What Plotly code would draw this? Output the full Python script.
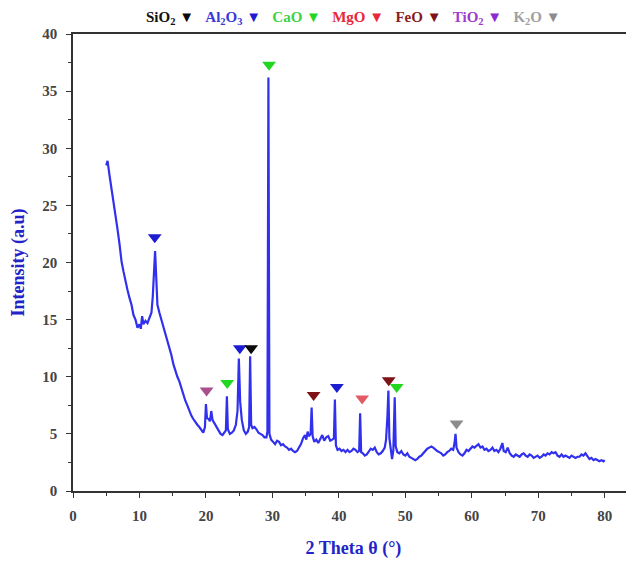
import plotly.graph_objects as go

# ---- data ----
two_theta = [5.0, 5.2, 5.5, 5.8, 6.1, 6.4, 6.7, 7.0, 7.3, 7.6, 7.9, 8.2, 8.5, 8.8, 9.1, 9.4, 9.7, 10.0, 10.2, 10.4,
             10.6, 10.9, 11.2, 11.5, 11.8, 12.0, 12.2, 12.35, 12.5, 12.7, 13.0, 13.3, 13.6, 13.9, 14.2, 14.5, 14.8,
             15.1, 15.4, 15.7, 16.0, 16.3, 16.6, 16.9, 17.2, 17.5, 17.8, 18.1, 18.4, 18.7, 19.0, 19.3, 19.6, 19.85,
             20.0, 20.15, 20.4, 20.6, 20.8, 21.0, 21.3, 21.6, 21.9, 22.2, 22.5, 22.8, 23.0, 23.15, 23.3, 23.6, 23.9,
             24.2, 24.5, 24.75, 24.95, 25.15, 25.4, 25.7, 26.0, 26.3, 26.5, 26.65, 26.8, 27.0, 27.3, 27.6, 27.9,
             28.2, 28.5, 28.8, 29.1, 29.25, 29.4, 29.55, 29.8, 30.1, 30.4, 30.7, 31.0, 31.3, 31.6, 31.9, 32.2, 32.5,
             32.8, 33.1, 33.4, 33.7, 34.0, 34.3, 34.6, 34.9, 35.1, 35.3, 35.5, 35.75, 35.9, 36.05, 36.3, 36.6, 36.9,
             37.2, 37.5, 37.8, 38.1, 38.4, 38.7, 39.0, 39.25, 39.4, 39.55, 39.8, 40.1, 40.4, 40.7, 41.0, 41.3, 41.6,
             41.9, 42.2, 42.5, 42.8, 43.05, 43.2, 43.35, 43.6, 43.9, 44.2, 44.5, 44.8, 45.1, 45.4, 45.7, 46.0, 46.3,
             46.6, 46.9, 47.1, 47.3, 47.45, 47.6, 47.8, 48.0, 48.2, 48.4, 48.55, 48.8, 49.1, 49.4, 49.7, 50.0, 50.3,
             50.6, 50.9, 51.2, 51.5, 51.8, 52.1, 52.4, 52.7, 53.0, 53.3, 53.6, 53.9, 54.2, 54.5, 54.8, 55.1, 55.4,
             55.7, 56.0, 56.3, 56.6, 56.9, 57.2, 57.4, 57.55, 57.7, 58.0, 58.3, 58.6, 58.9, 59.2, 59.5, 59.8, 60.1,
             60.4, 60.7, 61.0, 61.3, 61.6, 61.9, 62.2, 62.5, 62.8, 63.1, 63.4, 63.7, 64.0, 64.3, 64.6, 64.8, 65.1,
             65.4, 65.7, 66.0, 66.3, 66.6, 66.9, 67.2, 67.5, 67.8, 68.1, 68.4, 68.7, 69.0, 69.3, 69.6, 69.9, 70.2,
             70.5, 70.8, 71.1, 71.4, 71.7, 72.0, 72.3, 72.6, 72.9, 73.2, 73.5, 73.8, 74.1, 74.4, 74.7, 75.0, 75.3,
             75.6, 75.9, 76.2, 76.5, 76.8, 77.1, 77.4, 77.7, 78.0, 78.3, 78.6, 78.9, 79.2, 79.5, 79.8, 80.0]
intensity = [28.5, 28.9, 27.6, 26.5, 25.2, 24.3, 22.9, 21.6, 20.1, 19.2, 18.3, 17.6, 16.9, 16.3, 15.4, 15.0, 14.3,
             14.6, 14.2, 15.3, 14.6, 14.9, 14.7, 15.2, 15.6, 17.0, 19.5, 21.0, 19.0, 16.3, 15.6, 15.0, 14.2, 13.6,
             13.0, 12.4, 11.9, 11.1, 10.5, 10.0, 9.6, 9.0, 8.4, 7.9, 7.5, 7.0, 6.6, 6.3, 6.0, 5.8, 5.6, 5.3, 5.1,
             5.6, 7.6, 6.4, 6.3, 6.1, 7.0, 6.2, 5.9, 5.6, 5.2, 5.0, 4.9, 5.1, 5.3, 8.3, 5.4, 5.0, 5.1, 5.3, 5.8,
             7.0, 11.6, 7.8, 6.2, 5.3, 5.0, 5.2, 5.6, 11.8, 5.8, 5.5, 5.6, 5.4, 5.1, 5.0, 4.9, 4.7, 4.7, 5.2, 36.2,
             5.0, 4.5, 4.3, 4.1, 4.4, 4.3, 4.0, 4.1, 3.9, 3.8, 3.6, 3.7, 3.5, 3.4, 3.5, 3.8, 4.1, 4.6, 4.9, 4.5,
             5.2, 4.8, 5.0, 7.3, 4.8, 4.3, 4.5, 4.2, 4.6, 4.9, 4.4, 4.7, 4.8, 4.4, 4.5, 4.6, 8.0, 4.0, 3.6, 3.7,
             3.5, 3.6, 3.4, 3.6, 3.4, 3.5, 3.7, 3.6, 3.4, 3.5, 6.8, 3.4, 3.3, 3.1, 3.2, 3.5, 3.7, 3.6, 3.8, 3.4,
             3.2, 3.3, 3.5, 3.8, 4.5, 6.5, 8.8, 4.6, 3.4, 2.8, 3.6, 8.2, 3.9, 3.4, 3.3, 3.5, 3.2, 3.1, 3.3, 3.0,
             2.9, 2.8, 2.7, 2.8, 3.0, 3.1, 3.3, 3.5, 3.7, 3.8, 3.9, 3.8, 3.6, 3.5, 3.4, 3.3, 3.1, 3.2, 3.4, 3.5,
             3.7, 3.6, 4.2, 5.0, 3.8, 3.4, 3.2, 3.1, 3.3, 3.6, 3.5, 3.7, 3.9, 3.8, 4.0, 4.1, 3.8, 3.9, 3.6, 3.7,
             3.5, 3.6, 3.8, 3.5, 3.6, 3.4, 3.7, 4.2, 3.5, 3.4, 3.8, 3.3, 3.1, 3.0, 3.2, 3.1, 3.0, 3.2, 3.3, 3.1,
             3.0, 3.2, 3.1, 2.9, 3.0, 3.1, 2.9, 3.0, 3.2, 3.1, 3.3, 3.2, 3.4, 3.3, 3.4, 3.1, 3.0, 3.2, 3.0, 3.1,
             3.0, 2.9, 3.1, 3.0, 2.9, 3.0, 3.0, 3.2, 3.1, 3.3, 3.0, 2.8, 2.9, 2.7, 2.8, 2.7, 2.6, 2.7, 2.6, 2.7]

# phase markers above peaks
marker_phase = ["Al2O3", "TiO2", "CaO", "Al2O3", "SiO2", "CaO", "FeO", "Al2O3", "MgO", "FeO", "CaO", "K2O"]
marker_x = [12.3, 20.1, 23.2, 25.1, 26.8, 29.5, 36.2, 39.7, 43.5, 47.5, 48.7, 57.7]
marker_y = [22.2, 8.8, 9.45, 12.5, 12.5, 37.3, 8.4, 9.1, 8.1, 9.7, 9.1, 5.9]

# legend items (label html, phase key)
legend_phases = ["SiO2", "Al2O3", "CaO", "MgO", "FeO", "TiO2", "K2O"]
legend_labels = ["SiO<sub>2</sub>", "Al<sub>2</sub>O<sub>3</sub>", "CaO", "MgO", "FeO", "TiO<sub>2</sub>", "K<sub>2</sub>O"]

x_ticks = [0, 10, 20, 30, 40, 50, 60, 70, 80]
y_ticks = [0, 5, 10, 15, 20, 25, 30, 35, 40]

# ---- styles ----
text_colors = {"SiO2": "#111111", "Al2O3": "#3a3ad8", "CaO": "#3fd23f", "MgO": "#e8283a",
               "FeO": "#8a1c22", "TiO2": "#a03ad0", "K2O": "#a0a0a0"}
marker_colors = {"SiO2": "#0a0a0a", "Al2O3": "#1c1cd0", "CaO": "#22d622", "MgO": "#e25a66",
                 "FeO": "#7e1216", "TiO2": "#a8508c", "K2O": "#8c8c8c"}
legend_tri_colors = {"SiO2": "#0a0a0a", "Al2O3": "#1c1cd0", "CaO": "#22d622", "MgO": "#e8283a",
                     "FeO": "#7e1216", "TiO2": "#8a2ad0", "K2O": "#8c8c8c"}
serif = "Liberation Serif, Times New Roman, serif"

fig = go.Figure()
fig.add_trace(go.Scatter(x=two_theta, y=intensity, mode="lines",
                         line=dict(color="#3030ee", width=2.2), showlegend=False))
fig.add_trace(go.Scatter(x=marker_x, y=marker_y, mode="markers",
                         marker=dict(symbol="triangle-down", size=12,
                                     color=[marker_colors[p] for p in marker_phase], line=dict(width=0)),
                         showlegend=False))

leg_parts = []
for p, lab in zip(legend_phases, legend_labels):
    leg_parts.append(f'<span style="color:{text_colors[p]}">{lab}</span> '
                     f'<span style="color:{legend_tri_colors[p]}">▼</span>')
fig.add_annotation(text="&nbsp;&nbsp;&nbsp;".join(leg_parts), xref="paper", yref="paper", x=0.5, y=1.0569,
                   xanchor="center", yanchor="top", showarrow=False, borderpad=0,
                   font=dict(family=serif, size=15, weight="bold"))

axis_common = dict(showline=True, linecolor="#333333", linewidth=1.5, mirror=True, ticks="outside",
                   ticklen=5, tickwidth=1.2, tickcolor="#333333", showgrid=False, zeroline=False,
                   automargin=False,
                   tickfont=dict(family=serif, size=15, color="#444444", weight="bold"))
fig.update_xaxes(range=[0, 84.4], tickvals=x_ticks, ticklabelstandoff=5,
                 minor=dict(dtick=5, ticks="outside", ticklen=3, tickcolor="#333333"),
                 title=dict(text="2 Theta θ (°)", font=dict(family=serif, size=18, color="#2323c8", weight="bold"),
                            standoff=19),
                 **axis_common)
fig.update_yaxes(range=[0, 40], tickvals=y_ticks, ticklabelstandoff=6,
                 minor=dict(dtick=2.5, ticks="outside", ticklen=3, tickcolor="#333333"),
                 title=dict(text="Intensity (a.u)", font=dict(family=serif, size=18, color="#2323c8", weight="bold"),
                            standoff=15),
                 **axis_common)
# the page body adds an ~8px offset, so the figure is sized to fit the 634x561 window
fig.update_layout(width=626, height=553, margin=dict(l=65, r=0, t=26, b=70),
                  plot_bgcolor="white", paper_bgcolor="white")
fig.write_html("out.html")
